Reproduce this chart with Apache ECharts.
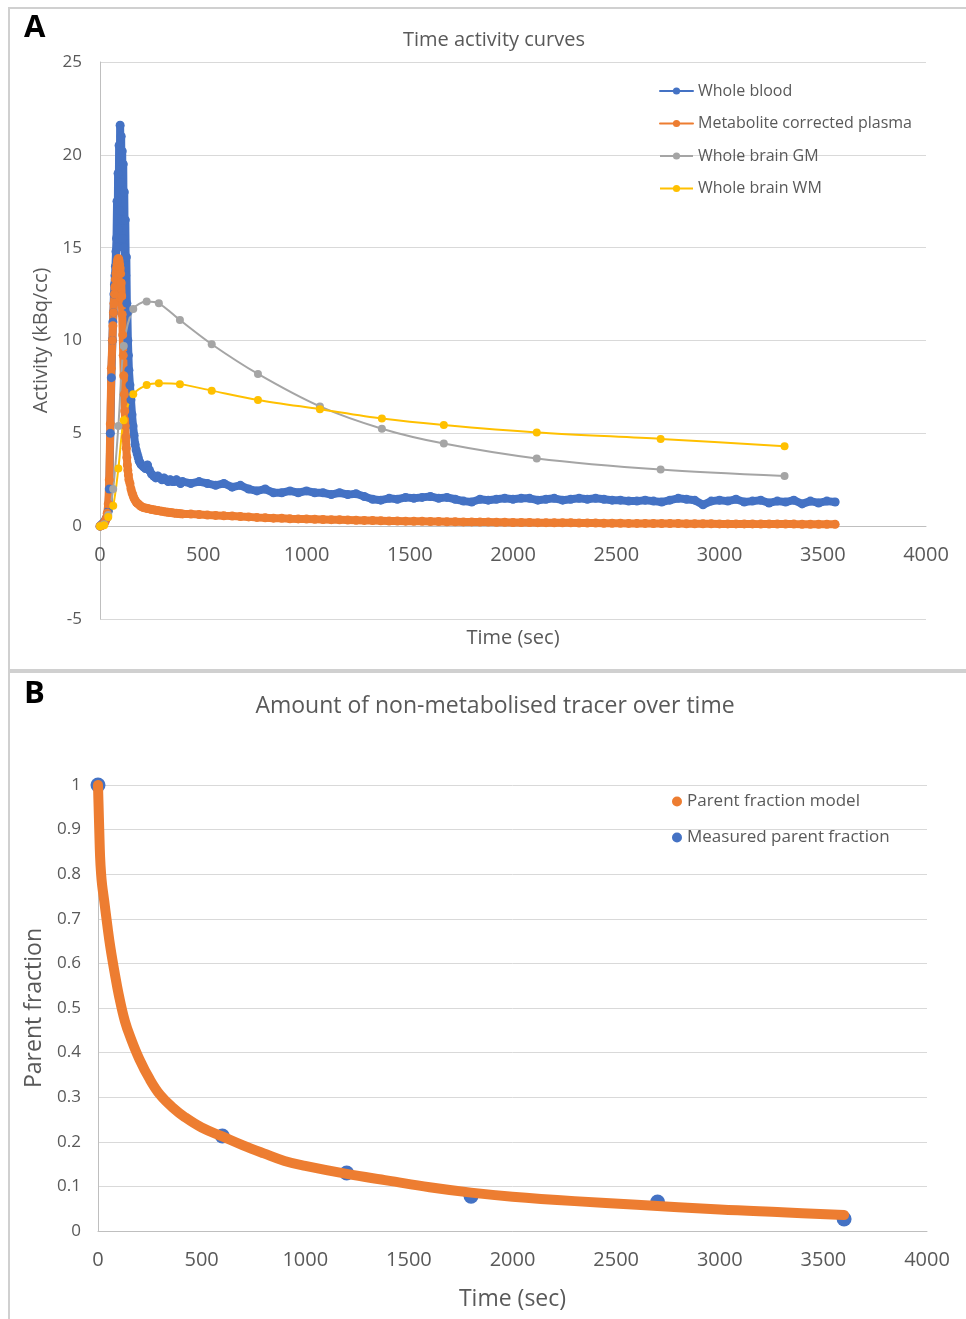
<!DOCTYPE html>
<html>
<head>
<meta charset="utf-8">
<script src="https://cdn.jsdelivr.net/npm/echarts@6/dist/echarts.min.js"></script>
<style>
  html, body { margin: 0; padding: 0; background: #fff; }
  #chart { width: 966px; height: 1319px; }
</style>
</head>
<body>
<div id="chart"></div>
<script>
// panel A: blood / plasma samples (sec, kBq/cc)
const sampleTime = [
  0, 5, 10, 15, 20, 25, 30, 35, 40, 45, 50, 55,
  60, 62.5, 65, 67.5, 70, 72.5, 75, 77.5, 80, 82.5, 85, 87.5, 90, 92.5, 95, 97.5, 100,
  102.5, 105, 107.5, 110, 112.5, 115, 117.5, 120, 122.5, 125, 127.5, 130, 132.5, 135, 137.5, 140,
  145, 150, 155, 160, 165, 170, 175, 180, 185, 190, 195, 200,
  210, 220, 230, 240, 250, 260, 270, 280, 290, 300, 310, 320, 330, 340, 350, 360, 370, 380, 390, 400,
  440, 480, 520, 560, 600, 640, 680, 720, 760, 800,
  840, 880, 920, 960, 1000, 1040, 1080, 1120, 1160, 1200,
  1240, 1280, 1320, 1360, 1400, 1440, 1480, 1520, 1560, 1600,
  1640, 1680, 1720, 1760, 1800, 1840, 1880, 1920, 1960, 2000,
  2040, 2080, 2120, 2160, 2200, 2240, 2280, 2320, 2360, 2400,
  2440, 2480, 2520, 2560, 2600, 2640, 2680, 2720, 2760, 2800,
  2840, 2880, 2920, 2960, 3000, 3040, 3080, 3120, 3160, 3200,
  3240, 3280, 3320, 3360, 3400, 3440, 3480, 3520, 3560
];
const wholeBlood = [
  0, 0.05, 0.1, 0.15, 0.2, 0.3, 0.4, 0.5, 0.8, 2.0, 5.0, 8.0,
  10.0, 11.0, 11.5, 12.5, 13.0, 13.5, 14.0, 14.8, 15.5, 17.5, 15.0, 19.0, 16.0, 20.5, 17.0, 21.6, 18.5,
  21.0, 16.5, 20.2, 15.5, 19.5, 15.0, 18.0, 14.5, 16.5, 13.5, 14.5, 12.0, 11.5, 10.0, 9.2, 8.4,
  7.6, 6.8, 6.0, 5.4, 4.9, 4.4, 4.1, 3.9, 3.7, 3.5, 3.4, 3.3,
  3.2, 3.1, 3.3, 3.0, 2.8, 2.7, 2.6, 2.7, 2.6, 2.5, 2.6, 2.5, 2.4, 2.5, 2.4, 2.4, 2.5, 2.4, 2.3, 2.4,
  2.3, 2.4, 2.3, 2.2, 2.3, 2.1, 2.2, 2.0, 1.9, 2.0,
  1.8, 1.8, 1.9, 1.8, 1.9, 1.8, 1.8, 1.7, 1.8, 1.7,
  1.75, 1.6, 1.45, 1.4, 1.5, 1.45, 1.55, 1.5, 1.55, 1.6,
  1.5, 1.55, 1.45, 1.35, 1.3, 1.45, 1.4, 1.45, 1.5, 1.45,
  1.5, 1.5, 1.4, 1.45, 1.5, 1.4, 1.45, 1.5, 1.45, 1.5,
  1.45, 1.4, 1.4, 1.35, 1.35, 1.4, 1.35, 1.3, 1.4, 1.5,
  1.45, 1.4, 1.15, 1.35, 1.4, 1.35, 1.45, 1.3, 1.35, 1.4,
  1.25, 1.35, 1.3, 1.4, 1.2, 1.35, 1.25, 1.35, 1.3
];
const plasma = [
  0, 0.02, 0.05, 0.1, 0.15, 0.25, 0.4, 0.7, 1.2, 2.5, 5.5, 8.5,
  10.0, 10.8, 11.5, 12.0, 12.5, 12.9, 13.3, 13.6, 13.9, 14.1, 14.3, 14.4, 14.4, 14.3, 14.1, 13.9, 13.6,
  13.1, 12.4, 11.4, 10.3, 9.2, 8.1, 7.1, 6.2, 5.4, 4.8, 4.2, 3.7, 3.3, 3.0, 2.75, 2.5,
  2.3, 2.0, 1.8, 1.65, 1.5, 1.4, 1.3, 1.25, 1.2, 1.15, 1.1, 1.05,
  1.0, 0.98, 0.95, 0.93, 0.9, 0.88, 0.86, 0.84, 0.82, 0.8, 0.78, 0.76, 0.75, 0.73, 0.72, 0.7, 0.69, 0.68, 0.67, 0.66,
  0.65, 0.63, 0.6, 0.58, 0.56, 0.55, 0.52, 0.5, 0.47, 0.45,
  0.43, 0.42, 0.4, 0.39, 0.38, 0.37, 0.36, 0.35, 0.34, 0.33,
  0.32, 0.31, 0.3, 0.29, 0.28, 0.28, 0.27, 0.26, 0.26, 0.25,
  0.25, 0.24, 0.24, 0.23, 0.23, 0.22, 0.22, 0.21, 0.21, 0.2,
  0.2, 0.2, 0.19, 0.19, 0.18, 0.18, 0.18, 0.17, 0.17, 0.17,
  0.16, 0.16, 0.16, 0.15, 0.15, 0.15, 0.14, 0.14, 0.14, 0.14,
  0.13, 0.13, 0.13, 0.13, 0.12, 0.12, 0.12, 0.12, 0.12, 0.11,
  0.11, 0.11, 0.11, 0.11, 0.1, 0.1, 0.1, 0.1, 0.1
];

// panel A: brain frames
const frameTime = [0, 20, 40, 64, 89, 115, 161, 226, 285, 387, 541, 765, 1065, 1365, 1665, 2115, 2715, 3315];
const brainGM = [0, 0.1, 0.6, 2.0, 5.4, 9.7, 11.7, 12.1, 12.0, 11.1, 9.8, 8.2, 6.45, 5.25, 4.45, 3.65, 3.05, 2.7];
const brainWM = [0, 0.05, 0.5, 1.1, 3.1, 5.7, 7.1, 7.6, 7.7, 7.65, 7.3, 6.8, 6.3, 5.8, 5.45, 5.05, 4.7, 4.3];

// panel B: parent fraction
const modelTime = [0, 3, 6, 10, 15, 20, 30, 45, 60, 80, 100, 130, 160, 200, 250, 300, 360, 420, 500, 600,
  700, 800, 900, 1000, 1200, 1400, 1600, 1800, 2000, 2300, 2600, 3000, 3300, 3600];
const modelFraction = [1.0, 0.95, 0.9, 0.84, 0.8, 0.775, 0.74, 0.685, 0.635, 0.58, 0.53, 0.47, 0.43, 0.385, 0.34, 0.305, 0.277, 0.255, 0.232, 0.212,
  0.192, 0.174, 0.157, 0.146, 0.128, 0.113, 0.098, 0.086, 0.077, 0.067, 0.059, 0.048, 0.042, 0.036];
const measuredTime = [0, 600, 1200, 1800, 2700, 3600];
const measuredFraction = [1.0, 0.213, 0.13, 0.078, 0.065, 0.027];

const zip = (xs, ys) => xs.map((x, i) => [x, ys[i]]);

const TXT = '#595959';
const GRID = '#d9d9d9';
const AXIS = '#bfbfbf';
const FONT = '"Open Sans", "Noto Sans", sans-serif';
const plain = v => String(v);

const chart = echarts.init(document.getElementById('chart'), null, { renderer: 'canvas' });

const option = {
  animation: false,
  backgroundColor: '#fff',
  textStyle: { fontFamily: FONT, color: TXT },
  title: [
    { text: 'Time activity curves', left: 489, top: 25, textAlign: 'center',
      textStyle: { fontSize: 20, fontWeight: 'normal', color: TXT, fontFamily: FONT } },
    { text: 'Amount of non-metabolised tracer over time', left: 490, top: 690, textAlign: 'center',
      textStyle: { fontSize: 23, fontWeight: 'normal', color: TXT, fontFamily: FONT } }
  ],
  graphic: [
    { type: 'rect', shape: { x: 9, y: 8, width: 970, height: 662 }, style: { fill: 'none', stroke: '#d0d0d0', lineWidth: 2 } },
    { type: 'rect', shape: { x: 9, y: 672, width: 970, height: 660 }, style: { fill: 'none', stroke: '#d0d0d0', lineWidth: 2 } },
    { type: 'text', left: 24, top: 13, style: { text: 'A', fontSize: 31, fontWeight: 'bold', fill: '#000', fontFamily: FONT } },
    { type: 'text', left: 24, top: 679, style: { text: 'B', fontSize: 31, fontWeight: 'bold', fill: '#000', fontFamily: FONT } }
  ],
  legend: [
    {
      orient: 'vertical', left: 654, top: 78, itemWidth: 33, itemHeight: 9, itemGap: 16.5,
      textStyle: { fontSize: 16, color: TXT, fontFamily: FONT },
      data: ['Whole blood', 'Metabolite corrected plasma', 'Whole brain GM', 'Whole brain WM']
    },
    {
      orient: 'vertical', left: 667, top: 788, itemWidth: 10, itemHeight: 10, itemGap: 19,
      textStyle: { fontSize: 17, color: TXT, fontFamily: FONT },
      data: [{ name: 'Parent fraction model', icon: 'circle' }, { name: 'Measured parent fraction', icon: 'circle' }]
    }
  ],
  grid: [
    { left: 100, top: 62, width: 826, height: 557 },
    { left: 98, top: 785, width: 829, height: 446 }
  ],
  xAxis: [
    {
      // Excel puts this axis on y = 0, so shift it up from the bottom of the grid
      gridIndex: 0, type: 'value', min: 0, max: 4000, interval: 500, offset: -93,
      name: 'Time (sec)', nameLocation: 'middle', nameGap: 102,
      nameTextStyle: { fontSize: 20, color: TXT },
      axisLine: { onZero: false, lineStyle: { color: AXIS } },
      axisTick: { show: false },
      axisLabel: { fontSize: 20, color: TXT, margin: 19, formatter: plain },
      splitLine: { show: false }
    },
    {
      gridIndex: 1, type: 'value', min: 0, max: 4000, interval: 500,
      name: 'Time (sec)', nameLocation: 'middle', nameGap: 57,
      nameTextStyle: { fontSize: 23, color: TXT },
      axisLine: { lineStyle: { color: AXIS } },
      axisTick: { show: false },
      axisLabel: { fontSize: 20, color: TXT, margin: 19, formatter: plain },
      splitLine: { show: false }
    }
  ],
  yAxis: [
    {
      gridIndex: 0, type: 'value', min: -5, max: 25, interval: 5,
      name: 'Activity (kBq/cc)', nameLocation: 'middle', nameGap: 48,
      nameTextStyle: { fontSize: 20, color: TXT },
      axisLine: { show: true, onZero: false, lineStyle: { color: AXIS } },
      axisTick: { show: false },
      axisLabel: { fontSize: 17, color: TXT, margin: 18 },
      splitLine: { lineStyle: { color: GRID, width: 1 } }
    },
    {
      gridIndex: 1, type: 'value', min: 0, max: 1, interval: 0.1,
      name: 'Parent fraction', nameLocation: 'middle', nameGap: 52,
      nameTextStyle: { fontSize: 23, color: TXT },
      axisLine: { show: true, lineStyle: { color: AXIS } },
      axisTick: { show: false },
      axisLabel: { fontSize: 17, color: TXT, margin: 17 },
      splitLine: { lineStyle: { color: GRID, width: 1 } }
    }
  ],
  series: [
    {
      name: 'Whole blood', type: 'line', xAxisIndex: 0, yAxisIndex: 0,
      data: zip(sampleTime, wholeBlood),
      symbol: 'circle', symbolSize: 9, showAllSymbol: true,
      itemStyle: { color: '#4472C4' }, lineStyle: { color: '#4472C4', width: 8, join: 'round', cap: 'round' }
    },
    {
      name: 'Metabolite corrected plasma', type: 'line', xAxisIndex: 0, yAxisIndex: 0,
      data: zip(sampleTime, plasma),
      symbol: 'circle', symbolSize: 9, showAllSymbol: true,
      itemStyle: { color: '#ED7D31' }, lineStyle: { color: '#ED7D31', width: 8, join: 'round', cap: 'round' }
    },
    {
      name: 'Whole brain GM', type: 'line', xAxisIndex: 0, yAxisIndex: 0,
      data: zip(frameTime, brainGM), smooth: 0.3,
      symbol: 'circle', symbolSize: 8,
      itemStyle: { color: '#A5A5A5' }, lineStyle: { color: '#A5A5A5', width: 2 }
    },
    {
      name: 'Whole brain WM', type: 'line', xAxisIndex: 0, yAxisIndex: 0,
      data: zip(frameTime, brainWM), smooth: 0.3,
      symbol: 'circle', symbolSize: 8,
      itemStyle: { color: '#FFC000' }, lineStyle: { color: '#FFC000', width: 2 }
    },
    {
      name: 'Parent fraction model', type: 'line', xAxisIndex: 1, yAxisIndex: 1,
      data: zip(modelTime, modelFraction), smooth: 0.4,
      showSymbol: false,
      itemStyle: { color: '#ED7D31' }, lineStyle: { color: '#ED7D31', width: 10, cap: 'round', join: 'round' }
    },
    {
      name: 'Measured parent fraction', type: 'scatter', xAxisIndex: 1, yAxisIndex: 1,
      data: zip(measuredTime, measuredFraction),
      symbolSize: 15, itemStyle: { color: '#4472C4', opacity: 1 }
    }
  ]
};

chart.setOption(option);
</script>
</body>
</html>
